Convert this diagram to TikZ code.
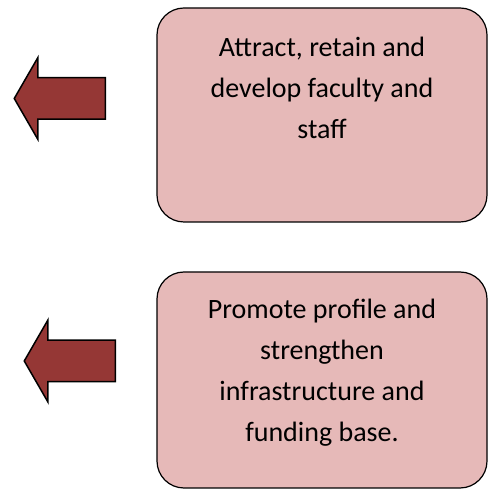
\documentclass[tikz,border=0pt]{standalone}
\usepackage{fontspec}
\setmainfont{Carlito}
\usetikzlibrary{shapes.arrows,positioning}
\definecolor{BoxPink}{RGB}{230,185,184}
\definecolor{ArrowRed}{RGB}{149,55,53}

\begin{document}
\begin{tikzpicture}[x=1pt,y=1pt,
    goal/.style={draw=black,line width=1.2pt,fill=BoxPink,rounded corners=27pt,
      minimum width=330pt,inner sep=0pt},
    goaltext/.style={align=center,inner sep=0pt,font=\fontsize{28}{41}\selectfont},
    pointer/.style={single arrow,draw=black,line width=1.5pt,fill=ArrowRed,
      shape border rotate=180,minimum height=91pt,minimum width=80pt,
      single arrow head extend=20pt,single arrow tip angle=120,
      inner xsep=0pt,inner ysep=20pt,anchor=tail}]
  \useasboundingbox (0,0) rectangle (493,490);
  % boxes
  \node[goal,minimum height=214pt] (attract) at (322,375) {};
  \node[goal,minimum height=216pt] (promote) at (322,110) {};
  % texts
  \node[goaltext,below=29pt of attract.north] (attracttext)
    {Attract, retain and\\develop faculty and\\staff};
  \node[goaltext,below=27pt of promote.north] (promotetext)
    {Promote profile and\\strengthen\\infrastructure and\\funding base.};
  % arrows
  \node[pointer] (attractarrow) at (106,391.5) {};
  \node[pointer] (promotearrow) at (116,129) {};
\end{tikzpicture}
\end{document}
